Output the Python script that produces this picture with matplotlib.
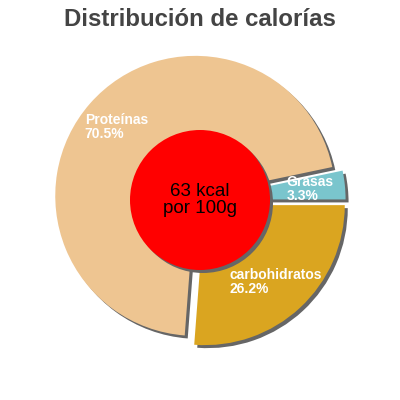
import matplotlib
matplotlib.use('Agg')
from matplotlib import pyplot as plt
from matplotlib.patches import Circle
import numpy as np

# data
Nutrientes = ['Grasas', 'Proteínas', 'carbohidratos']
Porcentaje = [3.3, 70.5, 26.2]
Colores = ['#7AC5CD', '#EEC591', '#DAA520']
Explode = [0.04, 0.045, 0.05]
Kcal = 63
Titulo = 'Distribución de calorías'

plt.rcParams['font.family'] = ['Liberation Sans', 'DejaVu Sans']

fig = plt.figure(figsize=(4, 4), dpi=100)
ax = fig.add_axes([0, 0, 1, 1])
R = 1.0
lim = 200 / 140.

# shadow offset (~3 px)
sh = 3 / 140.
ShadowColor = '#666666'

ax.pie(Porcentaje, explode=Explode, colors=[ShadowColor] * len(Porcentaje), startangle=0,
       counterclock=True, radius=R, center=(sh, -sh), frame=True,
       wedgeprops={'linewidth': 0})
Labels = ['{}\n{}%'.format(n, p) for n, p in zip(Nutrientes, Porcentaje)]
wedges, texts = ax.pie(Porcentaje, explode=Explode, colors=Colores, startangle=0,
                       counterclock=True, radius=R, center=(0, 0), frame=True,
                       labels=Labels, labeldistance=0.75,
                       wedgeprops={'linewidth': 0},
                       textprops={'color': 'white', 'fontsize': 10, 'fontweight': 'bold',
                                  'ha': 'center', 'va': 'center',
                                  'multialignment': 'left', 'linespacing': 1.0})
for t in texts:
    t.set_zorder(5)

#center disc with its own shadow
ax.add_patch(Circle((sh, -sh), 0.5, color=ShadowColor, zorder=3, lw=0))
ax.add_patch(Circle((0, 0), 0.5, color='#FF0000', zorder=4, lw=0))
ax.text(0, 0, '{} kcal\npor 100g'.format(Kcal), ha='center', va='center',
        fontsize=13.5, color='black', zorder=6, linespacing=1.0)

ax.set_xlim(-lim, lim)
ax.set_ylim(-lim, lim)
ax.set_aspect('equal')
ax.axis('off')

fig.text(0.5, 1 - 19 / 400., Titulo, ha='center', va='center', fontsize=17.3,
         fontweight='bold', color='#444444')

fig.savefig('out.png', dpi=100)
